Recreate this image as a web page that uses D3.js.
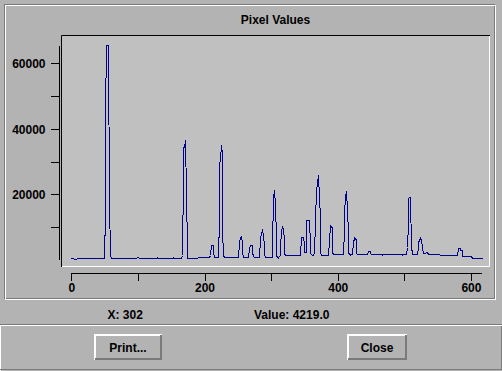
<!DOCTYPE html>
<html>
<head>
<meta charset="utf-8">
<script src="https://cdn.jsdelivr.net/npm/d3@7"></script>
<style>
  html, body { margin: 0; padding: 0; background: #b3b3b3; overflow: hidden; }
  svg text { font-family: "Liberation Sans", Arial, sans-serif; font-weight: bold; font-size: 12px; fill: #000; }
</style>
</head>
<body>
<div id="chart"></div>
<script>
// pixel profile: [pixel index, value]
const pixelIndex = [0, 7, 8, 49, 50, 51, 52, 55, 56, 57, 58, 59,
    97, 98, 100, 101, 127, 128, 129, 152, 153, 154,
    165, 166, 167, 168, 169, 170, 171, 172, 173, 174,
    207, 208, 209, 212, 213, 214, 220, 221, 222, 224, 225, 226, 227, 228, 229,
    251, 252, 253, 255, 256, 257, 258, 266, 267, 268, 271, 272, 273, 274,
    282, 283, 285, 286, 287, 288, 289, 290, 291,
    300, 301, 302, 303, 304, 305, 306, 307, 308, 309, 310, 311,
    313, 314, 315, 317, 318, 319, 320, 321,
    344, 345, 348, 349, 350, 352, 353, 357, 358, 359, 361,
    365, 366, 368, 370, 371, 372, 373, 374, 375,
    386, 387, 388, 389, 390, 391, 392, 393,
    408, 409, 410, 411, 412, 413, 414, 415, 416, 417, 418, 419,
    422, 423, 424, 425, 426, 427, 428, 429,
    444, 445, 448, 449, 450, 466, 467, 468, 496, 497, 498,
    503, 504, 505, 506, 507, 509, 510, 511, 512,
    519, 520, 521, 523, 525, 527, 528, 531, 532, 534, 535,
    552, 553, 579, 580, 583, 584, 586, 587, 600, 601, 616];
const pixelValue = [460, 150, 460, 460, 14200, 45500, 65535, 65535, 17700, 17700, 1500, 460,
    460, 850, 850, 460, 460, 850, 460, 460, 850, 460,
    600, 1500, 25400, 34300, 34300, 36600, 34300, 22600, 1500, 700,
    800, 1500, 4500, 4500, 2800, 950, 950, 12700, 28400, 34500, 35000, 32300, 9000, 1500, 950,
    950, 5000, 6900, 7300, 5000, 2500, 950, 950, 3500, 4500, 4500, 2500, 1100, 950,
    950, 6300, 8100, 9100, 9100, 7900, 4000, 1700, 950,
    950, 950, 4219, 19300, 21300, 20800, 17700, 6000, 1500, 950, 600, 950,
    1500, 4000, 9100, 9900, 9500, 6000, 2000, 1460,
    1460, 7000, 7000, 4800, 2500, 2500, 12200, 12200, 4800, 2000, 1460,
    1800, 12100, 21300, 25900, 24400, 20800, 11100, 2500, 1460,
    1460, 6000, 10600, 10600, 10300, 9600, 2500, 1700,
    1700, 9100, 14200, 19300, 21100, 20500, 16000, 7600, 2500, 1700, 1460, 1700,
    1700, 5500, 6600, 6900, 6600, 6000, 2000, 1800,
    1800, 2700, 2700, 2200, 1800, 1800, 1500, 1800, 1800, 1500, 1800,
    1800, 4000, 11600, 18800, 19100, 19100, 4000, 2000, 1800,
    1800, 4000, 5300, 6600, 6000, 4000, 2000, 2000, 2400, 2400, 1800,
    1800, 1400, 1400, 3500, 3500, 3000, 3000, 1150, 1150, 550, 550];

const yTicks = [10000, 20000, 30000, 40000, 50000, 60000];
const yTickLabels = ['', '20000', '', '40000', '', '60000'];
const xTicks = [0, 100, 200, 300, 400, 500, 600];
const xTickLabels = ['0', '', '200', '', '400', '', '600'];

const titleText = 'Pixel Values';
const cursorX = 302;
const cursorValue = 4219.0;
const buttonLabels = ['Print...', 'Close'];

const W = 502, H = 371;
const faceColor = '#b3b3b3';
const plotColor = '#c0c0c0';
const shadowColor = '#7a7a7a';
const lineColor = '#00008c';

const svg = d3.select('#chart').append('svg')
    .attr('width', W)
    .attr('height', H);

svg.append('rect').attr('width', W).attr('height', H).attr('fill', faceColor);

// etched border of the chart panel
function etched(x, y, w, h) {
    svg.append('rect').attr('x', x + 0.5).attr('y', y + 0.5).attr('width', w).attr('height', h)
        .attr('fill', 'none').attr('stroke', shadowColor);
    svg.append('rect').attr('x', x + 1.5).attr('y', y + 1.5).attr('width', w).attr('height', h)
        .attr('fill', 'none').attr('stroke', '#ffffff');
}
etched(4, 4, 490, 294);

// plot box, sunken
const box = { x0: 61, y0: 35, x1: 490, y1: 267 };
svg.append('rect').attr('x', box.x0).attr('y', box.y0)
    .attr('width', box.x1 - box.x0).attr('height', box.y1 - box.y0)
    .attr('fill', plotColor);
svg.append('path')
    .attr('d', `M${box.x0 + 0.5},${box.y1}V${box.y0 + 0.5}H${box.x1}`)
    .attr('fill', 'none').attr('stroke', '#000').attr('stroke-width', 1);
svg.append('path')
    .attr('d', `M${box.x0 + 1},${box.y1 - 0.5}H${box.x1 - 0.5}V${box.y0 + 1}`)
    .attr('fill', 'none').attr('stroke', '#ffffff').attr('stroke-width', 1);

svg.append('text')
    .attr('x', (box.x0 + box.x1) / 2)
    .attr('y', 24)
    .attr('text-anchor', 'middle')
    .text(titleText);

// scales span the data range, like the original widget
const yPx = d3.scaleLinear().domain([0, 65535]).range([259.8, 45.2]);
const yExtent = d3.extent(pixelValue);
const y = d3.scaleLinear().domain(yExtent).range(yExtent.map(yPx));
const x = d3.scaleLinear().domain(d3.extent(pixelIndex)).range([71.3, 481.6]);

const yAxis = d3.axisLeft(y)
    .tickValues(yTicks)
    .tickSize(8)
    .tickSizeOuter(0)
    .tickPadding(5)
    .tickFormat((d, i) => yTickLabels[i]);

const xAxis = d3.axisBottom(x)
    .tickValues(xTicks)
    .tickSize(8)
    .tickSizeOuter(0)
    .tickPadding(3)
    .tickFormat((d, i) => xTickLabels[i]);

const gy = svg.append('g').attr('transform', 'translate(58.5,0)').call(yAxis);
const gx = svg.append('g').attr('transform', 'translate(0,272.5)').call(xAxis);

[gy, gx].forEach(g => {
    g.selectAll('path, line').attr('stroke', '#000').attr('shape-rendering', 'crispEdges');
    g.selectAll('text').attr('font-family', null).attr('font-size', null).style('fill', '#000');
});
gy.selectAll('text').attr('dy', '0.36em');
gx.selectAll('text').attr('dy', '0.72em');

const points = pixelIndex.map((d, i) => [d, pixelValue[i]]);
const line = d3.line()
    .x(d => Math.round(x(d[0])) + 0.5)
    .y(d => Math.round(y(d[1])) + 0.5);

svg.append('path')
    .datum(points)
    .attr('d', line)
    .attr('fill', 'none')
    .attr('stroke', lineColor)
    .attr('stroke-width', 1)
    .attr('shape-rendering', 'crispEdges');

// status line under the chart
svg.append('text').attr('x', 107.5).attr('y', 319).text('X: ' + cursorX);
svg.append('text').attr('x', 254).attr('y', 319).text('Value: ' + cursorValue.toFixed(1));

// button bar
svg.append('line').attr('x1', 0).attr('x2', W).attr('y1', 324.5).attr('y2', 324.5).attr('stroke', shadowColor);
svg.append('line').attr('x1', 0).attr('x2', W).attr('y1', 325.5).attr('y2', 325.5).attr('stroke', '#ffffff');
svg.append('line').attr('x1', 0.5).attr('x2', 0.5).attr('y1', 326).attr('y2', H).attr('stroke', '#ffffff');
svg.append('line').attr('x1', 0).attr('x2', W).attr('y1', 369.5).attr('y2', 369.5).attr('stroke', shadowColor);
svg.append('line').attr('x1', 501.5).attr('x2', 501.5).attr('y1', 326).attr('y2', 370).attr('stroke', shadowColor);

const buttons = [
    { label: buttonLabels[0], x: 94, y: 334, w: 68, h: 26 },
    { label: buttonLabels[1], x: 347, y: 334, w: 60, h: 26 }
];

buttons.forEach(b => {
    const g = svg.append('g');
    g.append('rect').attr('x', b.x).attr('y', b.y).attr('width', b.w).attr('height', b.h).attr('fill', faceColor);
    g.append('path')
        .attr('d', `M${b.x + 1},${b.y + b.h}V${b.y + 1}H${b.x + b.w}`)
        .attr('fill', 'none').attr('stroke', '#ffffff').attr('stroke-width', 2);
    g.append('path')
        .attr('d', `M${b.x + 1},${b.y + b.h - 1}H${b.x + b.w - 1}V${b.y + 1}`)
        .attr('fill', 'none').attr('stroke', shadowColor).attr('stroke-width', 2);
    g.append('text')
        .attr('x', b.x + b.w / 2)
        .attr('y', b.y + 17.5)
        .attr('text-anchor', 'middle')
        .text(b.label);
});
</script>
</body>
</html>
